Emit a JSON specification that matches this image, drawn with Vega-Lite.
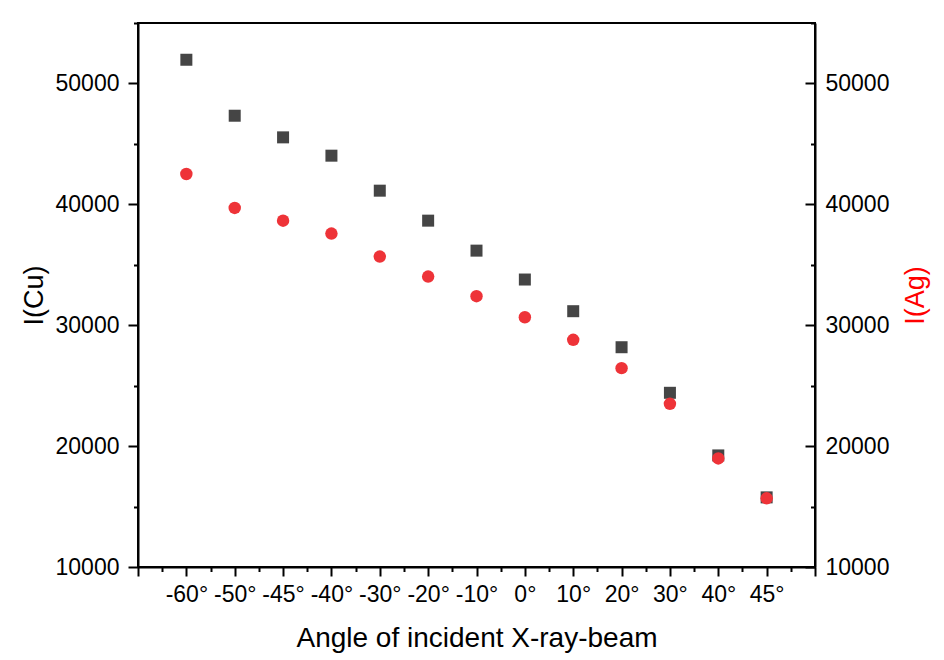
{
  "$schema": "https://vega.github.io/schema/vega-lite/v6.json",
  "width": 677,
  "height": 544,
  "autosize": {"type": "none"},
  "padding": {"left": 138, "top": 23, "right": 129, "bottom": 93},
  "background": "white",
  "data": {
    "values": [
      {"angle": "-60°", "pos": 1, "Cu": 51960, "Ag": 42510},
      {"angle": "-50°", "pos": 2, "Cu": 47330, "Ag": 39700},
      {"angle": "-45°", "pos": 3, "Cu": 45540, "Ag": 38650},
      {"angle": "-40°", "pos": 4, "Cu": 44025, "Ag": 37580},
      {"angle": "-30°", "pos": 5, "Cu": 41130, "Ag": 35680},
      {"angle": "-20°", "pos": 6, "Cu": 38650, "Ag": 34025},
      {"angle": "-10°", "pos": 7, "Cu": 36170, "Ag": 32400},
      {"angle": "0°", "pos": 8, "Cu": 33780, "Ag": 30660},
      {"angle": "10°", "pos": 9, "Cu": 31160, "Ag": 28790},
      {"angle": "20°", "pos": 10, "Cu": 28180, "Ag": 26450},
      {"angle": "30°", "pos": 11, "Cu": 24410, "Ag": 23500},
      {"angle": "40°", "pos": 12, "Cu": 19230, "Ag": 18980},
      {"angle": "45°", "pos": 13, "Cu": 15760, "Ag": 15680}
    ]
  },
  "layer": [
    {
      "mark": {"type": "square", "size": 144, "color": "#454545", "opacity": 1, "filled": true},
      "encoding": {
        "x": {
          "field": "pos",
          "type": "quantitative",
          "scale": {"domain": [0, 14], "nice": false, "zero": false},
          "axis": {
            "title": null,
            "labels": false,
            "orient": "bottom",
            "values": [0, 0.5, 1, 1.5, 2, 2.5, 3, 3.5, 4, 4.5, 5, 5.5, 6, 6.5, 7, 7.5, 8, 8.5, 9, 9.5, 10, 10.5, 11, 11.5, 12, 12.5, 13, 13.5, 14],
            "tickSize": {"condition": {"test": "datum.value % 1 === 0", "value": 9}, "value": 4.5}
          }
        },
        "y": {
          "field": "Cu",
          "type": "quantitative",
          "scale": {"domain": [10000, 55000], "nice": false, "zero": false},
          "axis": {
            "title": "I(Cu)",
            "orient": "left",
            "format": "d",
            "values": [10000, 15000, 20000, 25000, 30000, 35000, 40000, 45000, 50000, 55000],
            "labelExpr": "datum.value % 10000 === 0 ? datum.label : ''",
            "tickSize": {"condition": {"test": "datum.value % 10000 === 0", "value": 10}, "value": 4.5},
            "labelPadding": 9,
            "titlePadding": 7
          }
        }
      }
    },
    {
      "mark": {"type": "circle", "size": 155, "color": "#ee3338", "opacity": 1},
      "encoding": {
        "x": {
          "field": "angle",
          "type": "ordinal",
          "sort": null,
          "scale": {"type": "point", "padding": 1},
          "axis": {
            "title": "Angle of incident X-ray-beam",
            "titleFontSize": 28,
            "orient": "bottom",
            "ticks": false,
            "domain": false,
            "labelAngle": 0,
            "labelPadding": 16,
            "titlePadding": 18
          }
        },
        "y": {
          "field": "Ag",
          "type": "quantitative",
          "scale": {"domain": [10000, 55000], "nice": false, "zero": false},
          "axis": {
            "title": "I(Ag)",
            "orient": "right",
            "format": "d",
            "titleColor": "#ff0000",
            "titleAngle": 270,
            "values": [10000, 15000, 20000, 25000, 30000, 35000, 40000, 45000, 50000, 55000],
            "labelExpr": "datum.value % 10000 === 0 ? datum.label : ''",
            "tickSize": {"condition": {"test": "datum.value % 10000 === 0", "value": -10}, "value": -4.5},
            "labelPadding": 20,
            "titlePadding": 41
          }
        }
      }
    }
  ],
  "resolve": {"scale": {"x": "independent", "y": "independent"}},
  "config": {
    "view": {"stroke": "black", "strokeWidth": 2},
    "axis": {
      "grid": false,
      "domainColor": "black",
      "domainWidth": 2,
      "tickColor": "black",
      "tickWidth": 2,
      "labelFont": "Liberation Sans",
      "labelFontSize": 23,
      "labelColor": "black",
      "titleFont": "Liberation Sans",
      "titleFontSize": 27,
      "titleFontWeight": "normal",
      "titleColor": "black"
    }
  }
}
